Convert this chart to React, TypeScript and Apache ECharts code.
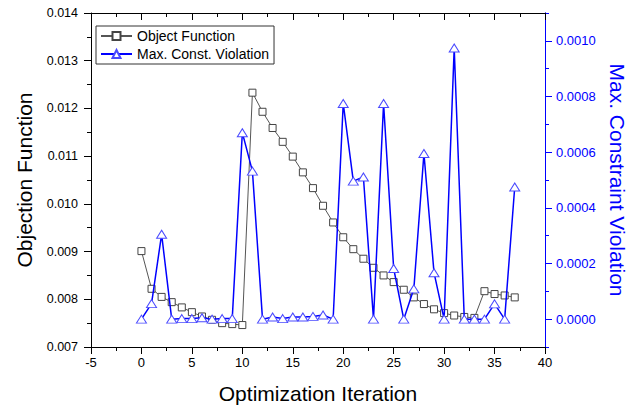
import React, { useEffect, useRef } from 'react';
import * as echarts from 'echarts';

const iterations = [
  0, 1, 2, 3, 4, 5, 6, 7, 8, 9, 10, 11, 12, 13, 14, 15, 16, 17, 18, 19,
  20, 21, 22, 23, 24, 25, 26, 27, 28, 29, 30, 31, 32, 33, 34, 35, 36, 37,
];

const objectiveValues = [
  0.00901, 0.00822, 0.00805, 0.00794, 0.00783, 0.00773, 0.00764, 0.00757, 0.0075, 0.00748,
  0.00746, 0.01233, 0.01193, 0.01159, 0.0113, 0.01099, 0.01066, 0.01033, 0.00996, 0.00961,
  0.0093, 0.00905, 0.00885, 0.00866, 0.0085, 0.00836, 0.0082, 0.00804, 0.0079, 0.00779,
  0.00771, 0.00766, 0.00763, 0.00761, 0.00817, 0.00811, 0.00808, 0.00804,
];

const violationValues = [
  0, 0.000056, 0.000305, 0, 0.000002, 0.000002, 0.000005, 0, 0.000002, 0.000002,
  0.00067, 0.000532, 0, 0.000008, 0.000002, 0.000008, 0.000008, 0.00001, 0.000015, 0,
  0.000775, 0.000496, 0.000511, 0, 0.000775, 0.000182, 0, 0.000109, 0.000595, 0.000167,
  0, 0.000974, 0, 0, 0, 0.000055, 0, 0.000475,
];

const leftTickFormat = (v: number) => v.toFixed(3);
const rightTickFormat = (v: number) => v.toFixed(4);

export default function App() {
  const ref = useRef<HTMLDivElement>(null);
  useEffect(() => {
    if (!ref.current) return;
    const chart = echarts.init(ref.current, null, { renderer: 'svg' });
    const font = '"Liberation Sans", Arial, sans-serif';
    const black = '#000';
    const blue = '#0000ff';
    const objData = iterations.map((x, i) => [x, objectiveValues[i]]);
    const vioData = iterations.map((x, i) => [x, violationValues[i]]);

    chart.setOption({
      animation: false,
      backgroundColor: '#fff',
      textStyle: { fontFamily: font },
      grid: {
        left: 91,
        right: 94,
        top: 13,
        bottom: 58,
        containLabel: false,
        outerBoundsMode: 'none',
      },
      legend: {
        orient: 'vertical',
        left: 96,
        top: 26,
        padding: [3, 5, 3, 4],
        itemGap: 4,
        itemWidth: 31,
        itemHeight: 10,
        borderColor: '#333',
        borderWidth: 1,
        borderRadius: 0,
        backgroundColor: '#fff',
        textStyle: { fontSize: 14, color: black, fontFamily: font },
        data: ['Object Function', 'Max. Const. Violation'],
      },
      xAxis: [
        {
          type: 'value',
          position: 'bottom',
          min: -5,
          max: 40,
          interval: 5,
          name: 'Optimization Iteration',
          nameLocation: 'middle',
          nameGap: 36,
          nameTextStyle: { fontSize: 21, color: black, fontFamily: font },
          axisLine: { onZero: false, lineStyle: { color: black, width: 1 } },
          axisTick: { inside: false, length: 7, lineStyle: { color: black } },
          minorTick: { show: true, splitNumber: 2, length: 4, lineStyle: { color: black } },
          axisLabel: { margin: 9, fontSize: 13, color: black, fontFamily: font },
          splitLine: { show: false },
        },
        {
          type: 'value',
          position: 'top',
          min: -5,
          max: 40,
          interval: 5,
          axisLine: { onZero: false, lineStyle: { color: black, width: 1 } },
          axisTick: { inside: true, length: 7, lineStyle: { color: black } },
          minorTick: { show: true, splitNumber: 2, length: 4, lineStyle: { color: black } },
          axisLabel: { show: false },
          splitLine: { show: false },
        },
      ],
      yAxis: [
        {
          type: 'value',
          position: 'left',
          min: 0.007,
          max: 0.014,
          interval: 0.001,
          name: 'Objection Function',
          nameLocation: 'middle',
          nameGap: 56,
          nameTextStyle: { fontSize: 21, color: black, fontFamily: font },
          axisLine: { onZero: false, lineStyle: { color: black, width: 1 } },
          axisTick: { inside: false, length: 7, lineStyle: { color: black } },
          minorTick: { show: true, splitNumber: 2, length: 4, lineStyle: { color: black } },
          axisLabel: { margin: 13, fontSize: 12.5, color: black, fontFamily: font, formatter: leftTickFormat },
          splitLine: { show: false },
        },
        {
          type: 'value',
          position: 'right',
          min: -0.0001,
          max: 0.0011,
          interval: 0.0001,
          axisLine: { onZero: false, lineStyle: { color: blue, width: 1 } },
          axisTick: { inside: false, length: 4, lineStyle: { color: blue } },
          axisLabel: { show: false },
          splitLine: { show: false },
        },
        {
          type: 'value',
          position: 'right',
          min: -0.0001,
          max: 0.0011,
          splitNumber: 6,
          name: 'Max. Constraint Violation',
          nameLocation: 'middle',
          nameRotate: -90,
          nameGap: 61,
          nameTextStyle: { fontSize: 21, color: blue, fontFamily: font },
          axisLine: { onZero: false, lineStyle: { color: blue, width: 1 } },
          axisTick: { inside: false, length: 7, lineStyle: { color: blue } },
          axisLabel: {
            margin: 11,
            fontSize: 13,
            color: blue,
            fontFamily: font,
            showMinLabel: false,
            showMaxLabel: false,
            formatter: (v: number) => {
              const k = Math.round(v / 0.0002);
              return Math.abs(v - k * 0.0002) < 1e-9 && v > -1e-9 && v < 0.00105 ? rightTickFormat(v) : '';
            },
          },
          splitLine: { show: false },
        },
      ],
      series: [
        {
          name: 'Object Function',
          type: 'line',
          xAxisIndex: 0,
          yAxisIndex: 0,
          data: objData,
          symbol: 'rect',
          symbolSize: 7,
          showAllSymbol: true,
          lineStyle: { color: '#555', width: 1 },
          itemStyle: { color: '#fff', borderColor: '#444', borderWidth: 1 },
          emphasis: { disabled: true },
          z: 2,
        },
        {
          name: 'Max. Const. Violation',
          type: 'line',
          xAxisIndex: 0,
          yAxisIndex: 2,
          data: vioData,
          symbol: 'triangle',
          symbolSize: [10, 8],
          showAllSymbol: true,
          lineStyle: { color: blue, width: 1.5 },
          itemStyle: { color: '#fff', borderColor: '#4a4aff', borderWidth: 1 },
          emphasis: { disabled: true },
          z: 3,
        },
      ],
    });
    return () => chart.dispose();
  }, []);

  return (
    <div
      ref={ref}
      style={{ position: 'fixed', left: 0, top: 0, width: 639, height: 405, background: '#fff' }}
    />
  );
}
